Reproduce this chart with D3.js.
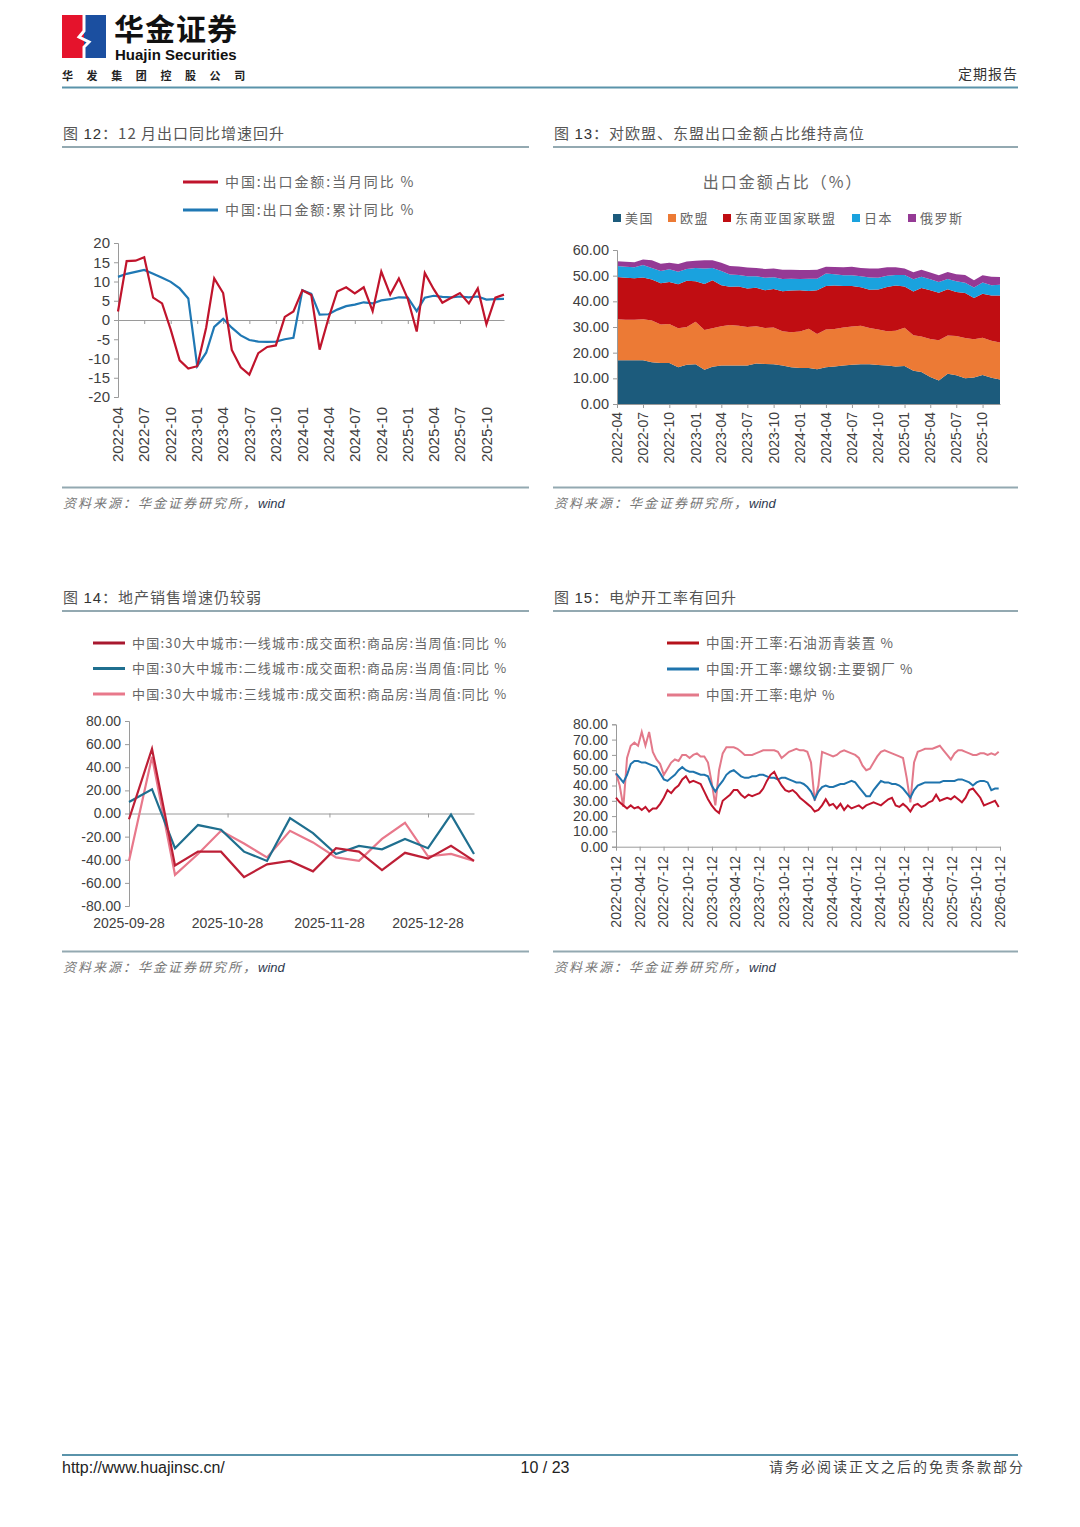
<!DOCTYPE html>
<html>
<head>
<meta charset="utf-8">
<script src="https://cdn.jsdelivr.net/npm/d3@7"></script>
<style>
  body { margin: 0; background: #fff; }
  svg { display: block; }
  .cjk { font-family: "Noto Sans CJK SC", sans-serif; }
  .axis path, .axis line { stroke: #9a9a9a; stroke-width: 1; }
  .axis text { font-family: "Liberation Sans", Arial, sans-serif; fill: #404040; }
</style>
</head>
<body>
<svg id="page" width="1080" height="1527"></svg>
<script>
// ---- fig 12: export yoy, 2022-04 .. 2025-12
var months = d3.utcMonth.range(new Date(Date.UTC(2022, 3, 1)), new Date(Date.UTC(2026, 0, 1)));
var exportMonthYoy = [2.2, 15.3, 15.4, 16.3, 5.8, 4.3, -2.5, -10.5, -12.6, -12.0,
  -2.0, 10.8, 7.0, -7.8, -12.3, -14.2, -8.6, -7.0, -6.6, 0.8,
  2.2, 7.7, 6.5, -7.7, 0.5, 7.4, 8.5, 6.9, 8.5, 2.3,
  12.6, 6.6, 10.8, 5.5, -3.0, 12.2, 8.0, 4.5, 5.8, 7.0,
  4.3, 8.2, -1.1, 5.8, 6.6];
var exportCumYoy = [11.2, 12.0, 12.5, 13.0, 12.0, 11.0, 9.9, 8.2, 5.6, -12.0,
  -8.5, -1.8, 0.3, -2.0, -4.0, -5.2, -5.6, -5.7, -5.6, -5.0,
  -4.6, 7.7, 6.8, 1.4, 1.5, 2.7, 3.6, 4.0, 4.6, 4.3,
  5.1, 5.4, 5.9, 5.8, 2.3, 5.8, 6.3, 6.0, 5.9, 6.1,
  5.9, 6.1, 5.3, 5.4, 5.5];
var quarterTicks = ["2022-04", "2022-07", "2022-10", "2023-01", "2023-04", "2023-07", "2023-10",
  "2024-01", "2024-04", "2024-07", "2024-10", "2025-01", "2025-04", "2025-07", "2025-10"];

// ---- fig 13: export share by destination (%)
var shareUS = [17.0, 17.0, 17.0, 17.0, 16.3, 16.0, 16.0, 14.3, 15.3, 15.5,
  13.3, 14.5, 15.0, 15.0, 15.0, 15.0, 15.8, 15.6, 15.5, 15.0,
  14.3, 14.0, 14.0, 13.5, 14.3, 14.6, 15.0, 15.3, 15.5, 15.5,
  15.2, 15.0, 14.6, 14.8, 13.0, 12.5, 10.5, 9.2, 11.8, 11.2,
  10.0, 10.3, 11.3, 10.2, 9.5];
var shareEU = [16.0, 15.8, 15.8, 16.0, 16.2, 15.0, 15.2, 15.2, 14.7, 16.5,
  15.5, 15.0, 15.3, 15.8, 15.5, 15.0, 14.5, 14.0, 14.3, 13.3,
  13.7, 14.2, 15.3, 13.8, 14.7, 14.6, 14.8, 14.9, 15.0, 14.1,
  13.8, 13.3, 13.9, 14.9, 13.8, 13.8, 14.8, 15.6, 14.9, 15.3,
  15.7, 14.9, 14.5, 14.4, 14.5];
var shareASEAN = [16.5, 16.4, 16.2, 16.3, 16.0, 16.0, 16.3, 17.2, 18.0, 15.8,
  18.0, 18.7, 16.0, 14.9, 15.3, 15.0, 15.0, 14.7, 15.0, 15.6,
  16.2, 16.1, 14.7, 17.0, 17.0, 17.0, 16.2, 15.8, 15.0, 14.9,
  15.6, 17.3, 17.7, 16.1, 17.0, 18.9, 19.0, 18.5, 18.0, 17.1,
  17.5, 16.1, 17.2, 17.7, 18.3];
var shareJP = [4.3, 4.3, 4.3, 4.9, 4.5, 4.8, 5.0, 4.8, 4.6, 5.2,
  6.0, 4.8, 5.5, 4.8, 4.5, 4.8, 4.5, 4.9, 4.6, 4.8,
  4.6, 4.4, 4.8, 4.5, 4.8, 4.4, 4.2, 4.2, 4.3, 4.8,
  4.6, 4.4, 4.1, 4.5, 4.8, 4.4, 4.3, 4.2, 4.0, 4.2,
  4.0, 4.1, 4.3, 4.0, 4.2];
var shareRU = [1.8, 1.9, 1.9, 2.1, 3.0, 2.8, 2.5, 3.0, 2.9, 2.8,
  3.2, 3.0, 3.2, 3.3, 3.3, 3.4, 3.2, 3.4, 3.4, 3.6,
  3.5, 3.5, 3.4, 3.5, 2.7, 2.8, 3.1, 3.3, 3.2, 3.5,
  3.6, 3.3, 3.0, 2.5, 2.7, 2.7, 2.6, 2.7, 2.7, 2.8,
  3.1, 2.8, 2.9, 3.3, 3.0];
var shareNames = ["美国", "欧盟", "东南亚国家联盟", "日本", "俄罗斯"];
var shareColors = ["#1c5b7c", "#ec7a35", "#c00d12", "#1aa2de", "#953a95"];

// ---- fig 14: 30-city housing sales area, weekly yoy (%)
var weeks14 = ["2025-09-28", "2025-10-05", "2025-10-12", "2025-10-19", "2025-10-26", "2025-11-02",
  "2025-11-09", "2025-11-16", "2025-11-23", "2025-11-30", "2025-12-07", "2025-12-14",
  "2025-12-21", "2025-12-28", "2026-01-04", "2026-01-11"];
var tier1 = [-5, 56, -45, -33, -33, -55, -44, -41, -50, -30, -33, -49, -34, -39, -28, -41];
var tier2 = [10, 21, -30, -10, -14, -33, -41, -4, -17, -35, -28, -31, -22, -30, -1, -35];
var tier3 = [-41, 49, -53, -35, -15, -26, -38, -15, -25, -38, -41, -22, -8, -37, -35, -41];
var ticks14 = ["2025-09-28", "2025-10-28", "2025-11-28", "2025-12-28"];

// ---- fig 15: operating rates (%), every two weeks from 2022-01-12
var asphaltRate = [32, 29, 27, 25, 27, 25, 26, 24, 26, 23, 25, 25, 28, 32, 37, 35, 38, 40, 44, 46,
  42, 43, 42, 41, 36, 31, 27, 24, 22, 30, 32, 34, 37, 37, 34, 32, 34, 33, 34, 35,
  38, 43, 47, 49, 44, 40, 37, 36, 37, 35, 32, 30, 28, 26, 23, 24, 27, 31, 27, 28,
  25, 28, 24, 27, 25, 26, 27, 25, 27, 28, 29, 28, 27, 29, 31, 32, 27, 26, 28, 26,
  23, 27, 28, 26, 27, 29, 30, 34, 30, 31, 32, 31, 33, 31, 29, 32, 37, 38, 35, 32,
  27, 28, 29, 30, 26];
var rebarRate = [48, 45, 42, 47, 54, 56, 56, 55, 55, 54, 53, 52, 48, 44, 43, 45, 47, 50, 52, 50,
  49, 49, 48, 47, 47, 46, 40, 36, 40, 43, 47, 49, 50, 48, 46, 45, 45, 46, 46, 47,
  47, 46, 45, 45, 44, 45, 45, 44, 43, 42, 42, 41, 39, 36, 31, 36, 39, 40, 39, 39,
  40, 41, 41, 42, 43, 42, 39, 36, 33, 33, 37, 40, 43, 42, 42, 41, 41, 40, 38, 35,
  32, 37, 40, 41, 42, 42, 42, 42, 42, 43, 43, 43, 43, 44, 44, 43, 42, 40, 42, 43,
  43, 42, 37, 38, 38];
var eafRate = [48, 40, 26, 58, 66, 68, 66, 75, 66, 75, 62, 57, 54, 47, 51, 55, 57, 56, 60, 60,
  58, 60, 61, 59, 59, 55, 42, 27, 50, 61, 65, 65, 65, 64, 62, 60, 60, 60, 61, 62,
  63, 63, 63, 63, 62, 58, 60, 62, 63, 64, 63, 63, 62, 55, 30, 40, 62, 61, 60, 59,
  60, 62, 63, 62, 61, 60, 58, 53, 50, 51, 55, 59, 62, 63, 62, 61, 60, 59, 58, 45,
  29, 55, 62, 63, 64, 64, 64, 65, 66, 63, 60, 57, 61, 63, 63, 62, 61, 60, 60, 61,
  61, 60, 61, 60, 62];
var ticks15 = ["2022-01-12", "2022-04-12", "2022-07-12", "2022-10-12", "2023-01-12", "2023-04-12",
  "2023-07-12", "2023-10-12", "2024-01-12", "2024-04-12", "2024-07-12", "2024-10-12",
  "2025-01-12", "2025-04-12", "2025-07-12", "2025-10-12", "2026-01-12"];

var parseDay = d3.utcParse("%Y-%m-%d");
var start15 = parseDay("2022-01-12");
var dates15 = asphaltRate.map(function(d, i) { return d3.utcDay.offset(start15, 14 * i); });
// plain hyphen as minus sign, like the source
var fmtInt = function(d) { return String(d); };
var fmt2 = function(d) { return d.toFixed(2); };

var svg = d3.select("#page");

// ---------- page header ----------
var hdr = svg.append("g");
hdr.append("rect").attr("x", 62).attr("y", 15).attr("width", 22).attr("height", 43).attr("fill", "#e5132c");
hdr.append("rect").attr("x", 84).attr("y", 15).attr("width", 22).attr("height", 43).attr("fill", "#1b4fa0");
hdr.append("path").attr("d", "M84,15 L84,31 L79,37 L89,42 L84,47 L84,58")
  .attr("fill", "none").attr("stroke", "#fff").attr("stroke-width", 3);
hdr.append("text").attr("class", "cjk").attr("x", 114).attr("y", 40)
  .attr("font-size", 30).attr("font-weight", 700).attr("letter-spacing", 1).attr("fill", "#111").text("华金证券");
hdr.append("text").attr("x", 115).attr("y", 60)
  .attr("font-family", "'Liberation Sans', Arial, sans-serif")
  .attr("font-size", 15).attr("font-weight", 700).attr("fill", "#111").text("Huajin Securities");
hdr.append("text").attr("class", "cjk").attr("x", 62).attr("y", 80)
  .attr("font-size", 11).attr("font-weight", 700).attr("letter-spacing", 13.6).attr("fill", "#222")
  .text("华发集团控股公司");
hdr.append("text").attr("class", "cjk").attr("x", 1018).attr("y", 79).attr("text-anchor", "end")
  .attr("font-size", 14).attr("letter-spacing", 1).attr("fill", "#333").text("定期报告");
hdr.append("line").attr("x1", 62).attr("x2", 1018).attr("y1", 87.5).attr("y2", 87.5)
  .attr("stroke", "#5a93aa").attr("stroke-width", 2);

// ---------- section frames ----------
function frame(x0, x1, titleY, bottomY, num, title) {
  var t = svg.append("text").attr("class", "cjk").attr("x", x0 + 1).attr("y", titleY)
    .attr("font-size", 15).attr("letter-spacing", 1).attr("fill", "#555");
  t.append("tspan").text("图 ");
  t.append("tspan").attr("font-family", "'Liberation Sans', Arial, sans-serif").attr("fill", "#333").text(num);
  t.append("tspan").text("：" + title);
  svg.append("line").attr("x1", x0).attr("x2", x1).attr("y1", titleY + 8).attr("y2", titleY + 8)
    .attr("stroke", "#93a9b1").attr("stroke-width", 2);
  svg.append("line").attr("x1", x0).attr("x2", x1).attr("y1", bottomY).attr("y2", bottomY)
    .attr("stroke", "#93a9b1").attr("stroke-width", 2);
  var s = svg.append("text").attr("x", x0 + 1).attr("y", bottomY + 20).attr("font-size", 13);
  s.append("tspan").attr("class", "cjk").attr("font-style", "italic").attr("letter-spacing", 2)
    .attr("fill", "#777").text("资料来源：华金证券研究所，");
  s.append("tspan").attr("font-family", "'Liberation Sans', Arial, sans-serif").attr("font-style", "italic")
    .attr("fill", "#2f3a50").text("wind");
}
frame(62, 529, 139, 487.5, "12", "12 月出口同比增速回升");
frame(553, 1018, 139, 487.5, "13", "对欧盟、东盟出口金额占比维持高位");
frame(62, 529, 603, 951.5, "14", "地产销售增速仍较弱");
frame(553, 1018, 603, 951.5, "15", "电炉开工率有回升");

function lineLegend(g, x, y, items, size, spacing) {
  items.forEach(function(it, i) {
    var yy = y + i * it.step;
    g.append("line").attr("x1", x).attr("x2", x + it.len).attr("y1", yy).attr("y2", yy)
      .attr("stroke", it.color).attr("stroke-width", 3);
    g.append("text").attr("class", "cjk").attr("x", x + it.len + 7).attr("y", yy)
      .attr("dy", "0.35em").attr("font-size", size).attr("letter-spacing", spacing)
      .attr("fill", "#666").text(it.label);
  });
}

function rotatedLabels(g, labels, xpos, top, size) {
  g.selectAll(null).data(labels).enter().append("text")
    .attr("transform", function(d) { return "translate(" + xpos(d) + "," + top + ") rotate(-90)"; })
    .attr("text-anchor", "end").attr("dy", "0.35em")
    .attr("font-family", "'Liberation Sans', Arial, sans-serif")
    .attr("font-size", size).attr("fill", "#404040").text(function(d) { return d; });
}

// ---------- fig 12 ----------
var g12 = svg.append("g");
var x12 = d3.scaleUtc().domain([months[0], months[months.length - 1]]).range([118, 504]);
var y12 = d3.scaleLinear().domain([-20, 20]).range([397, 243]);
var tickDates12 = quarterTicks.map(function(s) { return parseDay(s + "-01"); });

g12.append("g").attr("class", "axis").attr("transform", "translate(118,0)")
  .call(d3.axisLeft(y12).tickValues(d3.range(-20, 21, 5)).tickFormat(fmtInt).tickSize(4).tickPadding(4))
  .call(function(a) { a.selectAll("text").attr("font-size", 15); });
g12.append("g").attr("class", "axis").attr("transform", "translate(0," + y12(0) + ")")
  .call(d3.axisBottom(x12).tickValues(tickDates12).tickSize(4).tickFormat("").tickSizeOuter(0));
rotatedLabels(g12, quarterTicks, function(d) { return x12(parseDay(d + "-01")); }, 407, 15);

var line12 = function(vals) {
  return d3.line().x(function(d, i) { return x12(months[i]); }).y(function(d) { return y12(d); })(vals);
};
g12.append("path").attr("d", line12(exportCumYoy)).attr("fill", "none")
  .attr("stroke", "#1f78b4").attr("stroke-width", 2.2);
g12.append("path").attr("d", line12(exportMonthYoy)).attr("fill", "none")
  .attr("stroke", "#c0142c").attr("stroke-width", 2.2);

lineLegend(g12, 183, 182, [
  { label: "中国:出口金额:当月同比 %", color: "#c0142c", len: 35, step: 28 },
  { label: "中国:出口金额:累计同比 %", color: "#1f78b4", len: 35, step: 28 }
], 14, 1.9);

// ---------- fig 13 ----------
var g13 = svg.append("g");
var x13 = d3.scaleUtc().domain([months[0], months[months.length - 1]]).range([617, 1000]);
var y13 = d3.scaleLinear().domain([0, 60]).range([404, 250]);
var shareTable = months.map(function(m, i) {
  return { date: m, s0: shareUS[i], s1: shareEU[i], s2: shareASEAN[i], s3: shareJP[i], s4: shareRU[i] };
});
var stack13 = d3.stack().keys(["s0", "s1", "s2", "s3", "s4"])(shareTable);
var area13 = d3.area()
  .x(function(d) { return x13(d.data.date); })
  .y0(function(d) { return y13(d[0]); })
  .y1(function(d) { return y13(d[1]); });
g13.selectAll(".layer").data(stack13).enter().append("path")
  .attr("class", "layer").attr("d", area13)
  .attr("fill", function(d, i) { return shareColors[i]; });

g13.append("g").attr("class", "axis").attr("transform", "translate(617,0)")
  .call(d3.axisLeft(y13).tickValues(d3.range(0, 61, 10)).tickFormat(fmt2).tickSize(4).tickPadding(4))
  .call(function(a) { a.selectAll("text").attr("font-size", 14.5); });
g13.append("g").attr("class", "axis").attr("transform", "translate(0,404)")
  .call(d3.axisBottom(x13).tickValues(tickDates12).tickSize(4).tickFormat("").tickSizeOuter(0));
rotatedLabels(g13, quarterTicks, function(d) { return x13(parseDay(d + "-01")); }, 412, 14);

g13.append("text").attr("class", "cjk").attr("x", 783).attr("y", 182).attr("dy", "0.35em")
  .attr("text-anchor", "middle").attr("font-size", 16).attr("letter-spacing", 2).attr("fill", "#666")
  .text("出口金额占比（%）");
var legX13 = [613, 668, 723, 852, 908];
shareNames.forEach(function(n, i) {
  g13.append("rect").attr("x", legX13[i]).attr("y", 214).attr("width", 8).attr("height", 8)
    .attr("fill", shareColors[i]);
  g13.append("text").attr("class", "cjk").attr("x", legX13[i] + 12).attr("y", 218).attr("dy", "0.35em")
    .attr("font-size", 13).attr("letter-spacing", 1.5).attr("fill", "#666").text(n);
});

// ---------- fig 14 ----------
var g14 = svg.append("g");
var x14 = d3.scaleUtc().domain([parseDay(weeks14[0]), parseDay(weeks14[weeks14.length - 1])]).range([129, 474]);
var y14 = d3.scaleLinear().domain([-80, 80]).range([906, 721]);
g14.append("g").attr("class", "axis").attr("transform", "translate(129,0)")
  .call(d3.axisLeft(y14).tickValues(d3.range(-80, 81, 20)).tickFormat(fmt2).tickSize(4).tickPadding(4))
  .call(function(a) { a.selectAll("text").attr("font-size", 14); });
g14.append("g").attr("class", "axis").attr("transform", "translate(0," + y14(0) + ")")
  .call(d3.axisBottom(x14).tickValues(ticks14.map(parseDay)).tickSize(4).tickFormat("").tickSizeOuter(0));
g14.selectAll(".xl").data(ticks14).enter().append("text").attr("class", "xl")
  .attr("x", function(d) { return x14(parseDay(d)); }).attr("y", 928)
  .attr("text-anchor", "middle").attr("font-family", "'Liberation Sans', Arial, sans-serif")
  .attr("font-size", 14).attr("fill", "#404040").text(function(d) { return d; });

var line14 = function(vals) {
  return d3.line().x(function(d, i) { return x14(parseDay(weeks14[i])); }).y(function(d) { return y14(d); })(vals);
};
g14.append("path").attr("d", line14(tier3)).attr("fill", "none").attr("stroke", "#e8788b").attr("stroke-width", 2.2);
g14.append("path").attr("d", line14(tier2)).attr("fill", "none").attr("stroke", "#1f6f8f").attr("stroke-width", 2.2);
g14.append("path").attr("d", line14(tier1)).attr("fill", "none").attr("stroke", "#bd1f36").attr("stroke-width", 2.2);

lineLegend(g14, 93, 643, [
  { label: "中国:30大中城市:一线城市:成交面积:商品房:当周值:同比 %", color: "#a8182f", len: 32, step: 25.5 },
  { label: "中国:30大中城市:二线城市:成交面积:商品房:当周值:同比 %", color: "#1f6f8f", len: 32, step: 25.5 },
  { label: "中国:30大中城市:三线城市:成交面积:商品房:当周值:同比 %", color: "#e8788b", len: 32, step: 25.5 }
], 13, 1.2);

// ---------- fig 15 ----------
var g15 = svg.append("g");
var x15 = d3.scaleUtc().domain([parseDay("2022-01-12"), parseDay("2026-01-12")]).range([616, 1000]);
var y15 = d3.scaleLinear().domain([0, 80]).range([846.7, 724.3]);
g15.append("g").attr("class", "axis").attr("transform", "translate(616,0)")
  .call(d3.axisLeft(y15).tickValues(d3.range(0, 81, 10)).tickFormat(fmt2).tickSize(4).tickPadding(4))
  .call(function(a) { a.selectAll("text").attr("font-size", 14); });
g15.append("g").attr("class", "axis").attr("transform", "translate(0,846.7)")
  .call(d3.axisBottom(x15).tickValues(ticks15.map(parseDay)).tickSize(4).tickFormat("").tickSizeOuter(0));
rotatedLabels(g15, ticks15, function(d) { return x15(parseDay(d)); }, 856, 14);

var line15 = function(vals) {
  return d3.line().x(function(d, i) { return x15(dates15[i]); }).y(function(d) { return y15(d); })(vals);
};
g15.append("path").attr("d", line15(eafRate)).attr("fill", "none").attr("stroke", "#e3798a").attr("stroke-width", 2);
g15.append("path").attr("d", line15(rebarRate)).attr("fill", "none").attr("stroke", "#1f74ad").attr("stroke-width", 2);
g15.append("path").attr("d", line15(asphaltRate)).attr("fill", "none").attr("stroke", "#c0142c").attr("stroke-width", 2);

lineLegend(g15, 667, 643, [
  { label: "中国:开工率:石油沥青装置 %", color: "#b5121b", len: 32, step: 26 },
  { label: "中国:开工率:螺纹钢:主要钢厂 %", color: "#1f74ad", len: 32, step: 26 },
  { label: "中国:开工率:电炉 %", color: "#e3798a", len: 32, step: 26 }
], 13.5, 1.1);

// ---------- page footer ----------
svg.append("line").attr("x1", 62).attr("x2", 1018).attr("y1", 1455).attr("y2", 1455)
  .attr("stroke", "#5a93aa").attr("stroke-width", 2);
svg.append("text").attr("x", 62).attr("y", 1473)
  .attr("font-family", "'Liberation Sans Narrow', 'Liberation Sans', Arial, sans-serif")
  .attr("font-size", 16).attr("fill", "#222").text("http://www.huajinsc.cn/");
svg.append("text").attr("x", 545).attr("y", 1473).attr("text-anchor", "middle")
  .attr("font-family", "'Liberation Sans Narrow', 'Liberation Sans', Arial, sans-serif")
  .attr("font-size", 16).attr("fill", "#222").text("10 / 23");
svg.append("text").attr("class", "cjk").attr("x", 1025).attr("y", 1472).attr("text-anchor", "end")
  .attr("font-size", 14).attr("letter-spacing", 2).attr("fill", "#444").text("请务必阅读正文之后的免责条款部分");
</script>
</body>
</html>
